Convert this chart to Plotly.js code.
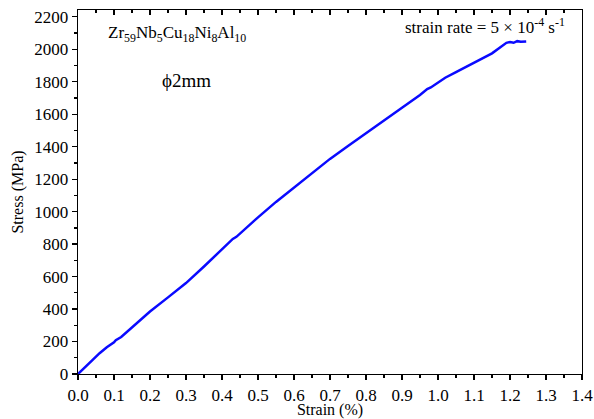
<!DOCTYPE html>
<html><head><meta charset="utf-8">
<script src="https://cdn.plot.ly/plotly-3.0.1.min.js"></script>
<style>html,body{margin:0;padding:0;background:#fff}#chart{width:594px;height:419px}</style>
</head><body><div id="chart"></div>
<script>
const strain = [0, 0.01, 0.02, 0.04, 0.06, 0.08, 0.10, 0.105, 0.12, 0.15, 0.2, 0.25, 0.3, 0.35, 0.4, 0.43, 0.44, 0.45, 0.5, 0.55, 0.6, 0.65, 0.7, 0.75, 0.8, 0.85, 0.9, 0.95, 0.97, 0.98, 1.0, 1.02, 1.05, 1.1, 1.15, 1.19, 1.2, 1.21, 1.22, 1.23, 1.245];
const stress = [0, 20, 42, 85, 128, 165, 195, 208, 228, 285, 385, 472, 560, 662, 772, 832, 845, 866, 965, 1060, 1150, 1240, 1325, 1405, 1485, 1562, 1640, 1718, 1755, 1765, 1795, 1825, 1860, 1915, 1975, 2040, 2045, 2040, 2050, 2046, 2048];
const xTicks = [0,0.1,0.2,0.3,0.4,0.5,0.6,0.7,0.8,0.9,1.0,1.1,1.2,1.3,1.4];
const xTickText = ["0.0","0.1","0.2","0.3","0.4","0.5","0.6","0.7","0.8","0.9","1.0","1.1","1.2","1.3","1.4"];
const yTicks = [0,200,400,600,800,1000,1200,1400,1600,1800,2000,2200];

const FAM = 'Liberation Serif';
function f(sz) { return {family: FAM, size: sz, color: '#000'}; }
const trace = {x: strain, y: stress, type: 'scatter', mode: 'lines',
  line: {color: '#0a0aff', width: 2.5}, showlegend: false, hoverinfo: 'skip'};
const ghost = {x: [0], y: [0], xaxis: 'x2', yaxis: 'y', mode: 'markers', marker: {opacity: 0}, showlegend: false, hoverinfo: 'skip'};

const layout = {
  width: 594, height: 419,
  margin: {l: 78, r: 11.5, t: 10, b: 45},
  paper_bgcolor: '#fff', plot_bgcolor: '#fff',
  font: f(17),
  xaxis: {range: [0, 1.4], tickmode: 'array', tickvals: xTicks, ticktext: xTickText,
    ticks: 'outside', ticklen: 5, tickwidth: 1.3, tickcolor: '#000',
    showline: true, linecolor: '#000', linewidth: 1.3, mirror: true,
    showgrid: false, zeroline: false,
    minor: {dtick: 0.05, tick0: 0, ticks: 'outside', ticklen: 3, tickwidth: 1.3, tickcolor: '#000'},
    tickfont: f(17),
    title: {text: 'Strain (%)', font: f(16), standoff: 2}},
  xaxis2: {range: [0, 1.4], overlaying: 'x', side: 'top', anchor: 'y', matches: 'x',
    tickmode: 'array', tickvals: xTicks, showticklabels: false,
    ticks: 'inside', ticklen: 5, tickwidth: 1.3, tickcolor: '#000',
    showline: false, showgrid: false, zeroline: false,
    minor: {dtick: 0.05, tick0: 0, ticks: 'inside', ticklen: 3, tickwidth: 1.3, tickcolor: '#000'}},
  yaxis: {range: [0, 2242], tickmode: 'array', tickvals: yTicks,
    ticks: 'outside', ticklen: 5, tickwidth: 1.3, tickcolor: '#000',
    showline: true, linecolor: '#000', linewidth: 1.3, mirror: true,
    showgrid: false, zeroline: false,
    minor: {dtick: 100, tick0: 0, ticks: 'outside', ticklen: 3, tickwidth: 1.3, tickcolor: '#000'},
    tickfont: f(17),
    title: {text: 'Stress (MPa)', font: f(16), standoff: 6}},
  annotations: [
    {xref: 'paper', yref: 'paper', x: 0.055, y: 0.935, xanchor: 'left', yanchor: 'middle', showarrow: false,
     text: 'Zr<sub>59</sub>Nb<sub>5</sub>Cu<sub>18</sub>Ni<sub>8</sub>Al<sub>10</sub>', font: f(17)},
    {xref: 'paper', yref: 'paper', x: 0.163, y: 0.807, xanchor: 'left', yanchor: 'middle', showarrow: false,
     text: 'ϕ2mm', font: f(19)},
    {xref: 'paper', yref: 'paper', x: 0.97, y: 0.955, xanchor: 'right', yanchor: 'middle', showarrow: false,
     text: 'strain rate = 5 × 10<sup>-4</sup> s<sup>-1</sup>', font: f(17)},
  ]
};
Plotly.newPlot('chart', [trace, ghost], layout, {staticPlot: true, displayModeBar: false});
</script></body></html>
